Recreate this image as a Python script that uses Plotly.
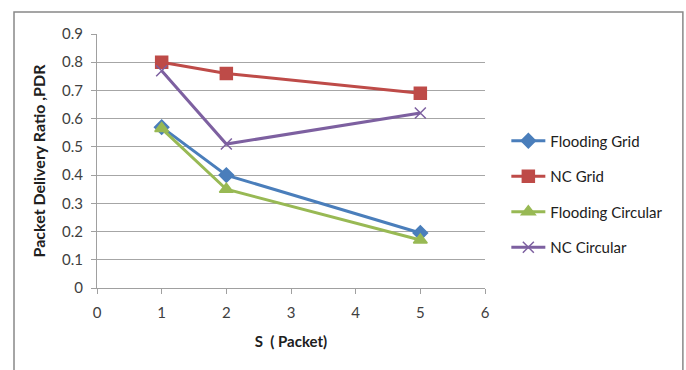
import plotly.graph_objects as go

# Packet size S and packet delivery ratio for each scheme
s_packet = [1, 2, 5]
flooding_grid = [0.57, 0.40, 0.195]
nc_grid = [0.80, 0.76, 0.69]
flooding_circular = [0.565, 0.35, 0.17]
nc_circular = [0.77, 0.51, 0.62]

series = [
    ("Flooding Grid", flooding_grid, "#4A7EBB", "diamond", 11),
    ("NC Grid", nc_grid, "#BE4B48", "square", 12),
    ("Flooding Circular", flooding_circular, "#98B954", "triangle-up", 12),
    ("NC Circular", nc_circular, "#7D60A0", "x-thin", 11),
]

fig = go.Figure()
for i, (name, vals, color, symbol, size) in enumerate(series):
    fig.add_trace(go.Scatter(
        x=s_packet, y=vals, name=name, mode="lines+markers",
        legendgroup=f"g{i}",
        line=dict(color=color, width=3),
        marker=dict(symbol=symbol, size=size, color=color,
                    line=dict(color=color, width=1.5)),
    ))

font_family = "Lato, 'Open Sans', sans-serif"

fig.update_layout(
    width=686, height=370,
    margin=dict(l=97, r=201, t=34, b=82),
    paper_bgcolor="white", plot_bgcolor="white",
    font=dict(family=font_family, size=15, color="#404040"),
    showlegend=True,
    legend=dict(
        x=1.055, y=0.37, xanchor="left", yanchor="middle",
        font=dict(family=font_family, size=15, color="#202020"),
        tracegroupgap=13, itemwidth=34,
        bgcolor="rgba(0,0,0,0)",
    ),
    xaxis=dict(
        range=[0, 6], dtick=1, tick0=0, showgrid=False, zeroline=False,
        showline=True, linecolor="#A0A0A0", linewidth=1,
        ticks="outside", ticklen=5, tickcolor="#A0A0A0",
        ticklabelstandoff=6,
        tickfont=dict(size=15, color="#404040"),
        title=dict(text="<b>S  ( Packet)</b>", standoff=16,
                   font=dict(size=15, color="#202020")),
    ),
    yaxis=dict(
        range=[0, 0.9], dtick=0.1, tick0=0, showgrid=True,
        gridcolor="#A6A6A6", gridwidth=1, zeroline=False,
        showline=True, linecolor="#A0A0A0", linewidth=1,
        ticks="outside", ticklen=5, tickcolor="#A0A0A0",
        ticklabelstandoff=5,
        tickformat="~g",
        tickfont=dict(size=15, color="#404040"),
        title=dict(text="<b>Packet Delivery Ratio ,PDR</b>", standoff=12,
                   font=dict(size=16, color="#202020")),
    ),
    shapes=[dict(
        type="rect", xref="paper", yref="paper",
        x0=-0.2139, x1=1.510, y0=-0.36, y1=1.0866,
        line=dict(color="#888888", width=1.5), layer="below",
    )],
)

fig.write_html("out.html")
